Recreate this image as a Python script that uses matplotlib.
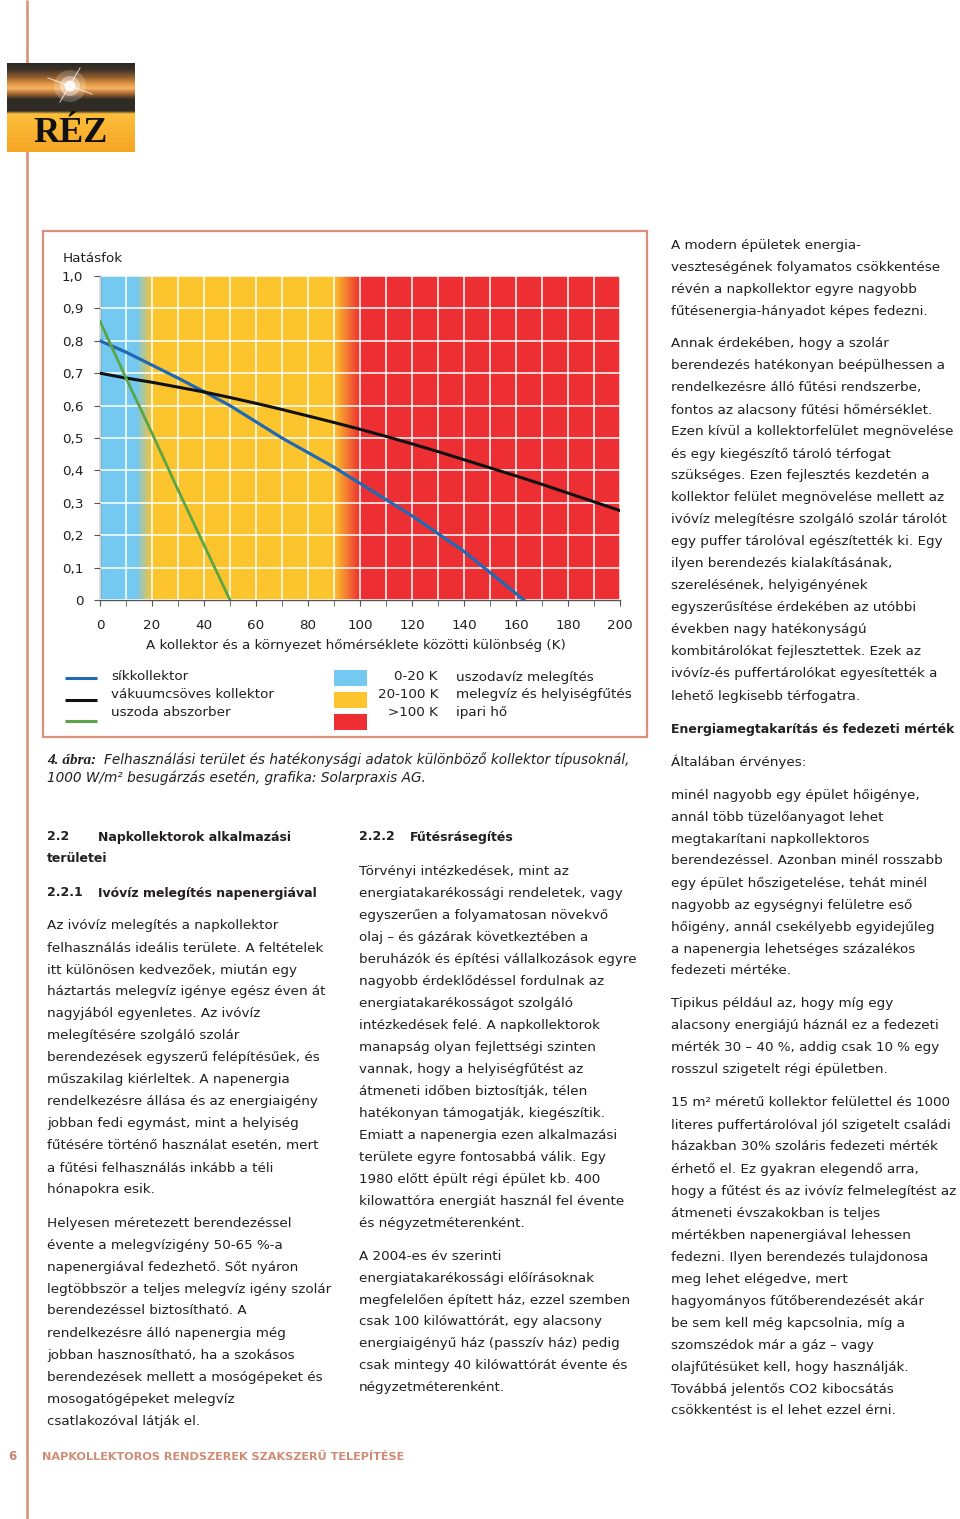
import numpy as np
import matplotlib.pyplot as plt
from matplotlib.patches import Rectangle
from matplotlib.colors import to_rgb

# efficiency curves (x = temperature difference in K)
sik_dt = [0, 10, 20, 30, 40, 50, 60, 70, 80, 90, 100, 110, 120, 130, 140, 150, 160, 163]
sik_eta = [0.80, 0.765, 0.725, 0.685, 0.643, 0.60, 0.55, 0.50, 0.455, 0.41, 0.36,
           0.31, 0.26, 0.205, 0.15, 0.085, 0.02, 0.0]
vak_dt = [0, 10, 20, 30, 40, 50, 60, 70, 80, 90, 100, 110, 120, 130, 140, 150, 160,
          170, 180, 190, 200]
vak_eta = [0.70, 0.685, 0.672, 0.657, 0.642, 0.625, 0.607, 0.588, 0.568, 0.548, 0.527,
           0.505, 0.482, 0.458, 0.433, 0.408, 0.383, 0.357, 0.33, 0.303, 0.276]
usz_dt = [0, 10, 20, 30, 40, 50]
usz_eta = [0.86, 0.685, 0.515, 0.34, 0.17, 0.0]

series_names = ['síkkollektor', 'vákuumcsöves kollektor', 'uszoda abszorber']
series_colors = ['#2169b3', '#111111', '#5ba546']

zone_edges = [0, 20, 100, 200]
zone_ranges = ['0-20 K', '20-100 K', '>100 K']
zone_uses = ['uszodavíz melegítés', 'melegvíz és helyiségfűtés', 'ipari hő']
zone_colors = ['#74c9f1', '#fcc42d', '#ed2f33']

x_ticks = list(range(0, 201, 20))
y_ticks = [0, 0.1, 0.2, 0.3, 0.4, 0.5, 0.6, 0.7, 0.8, 0.9, 1.0]
y_labels = ['0', '0,1', '0,2', '0,3', '0,4', '0,5', '0,6', '0,7', '0,8', '0,9', '1,0']

right_col = [
    ['A modern épületek energia-',
     'veszteségének folyamatos csökkentése',
     'révén a napkollektor egyre nagyobb',
     'fűtésenergia-hányadot képes fedezni.'],
    ['Annak érdekében, hogy a szolár',
     'berendezés hatékonyan beépülhessen a',
     'rendelkezésre álló fűtési rendszerbe,',
     'fontos az alacsony fűtési hőmérséklet.',
     'Ezen kívül a kollektorfelület megnövelése',
     'és egy kiegészítő tároló térfogat',
     'szükséges. Ezen fejlesztés kezdetén a',
     'kollektor felület megnövelése mellett az',
     'ivóvíz melegítésre szolgáló szolár tárolót',
     'egy puffer tárolóval egészítették ki. Egy',
     'ilyen berendezés kialakításának,',
     'szerelésének, helyigényének',
     'egyszerűsítése érdekében az utóbbi',
     'években nagy hatékonyságú',
     'kombitárolókat fejlesztettek. Ezek az',
     'ivóvíz-és puffertárolókat egyesítették a',
     'lehető legkisebb térfogatra.'],
    ['**Energiamegtakarítás és fedezeti mérték'],
    ['Általában érvényes:'],
    ['minél nagyobb egy épület hőigénye,',
     'annál több tüzelőanyagot lehet',
     'megtakarítani napkollektoros',
     'berendezéssel. Azonban minél rosszabb',
     'egy épület hőszigetelése, tehát minél',
     'nagyobb az egységnyi felületre eső',
     'hőigény, annál csekélyebb egyidejűleg',
     'a napenergia lehetséges százalékos',
     'fedezeti mértéke.'],
    ['Tipikus például az, hogy míg egy',
     'alacsony energiájú háznál ez a fedezeti',
     'mérték 30 – 40 %, addig csak 10 % egy',
     'rosszul szigetelt régi épületben.'],
    ['15 m² méretű kollektor felülettel és 1000',
     'literes puffertárolóval jól szigetelt családi',
     'házakban 30% szoláris fedezeti mérték',
     'érhető el. Ez gyakran elegendő arra,',
     'hogy a fűtést és az ivóvíz felmelegítést az',
     'átmeneti évszakokban is teljes',
     'mértékben napenergiával lehessen',
     'fedezni. Ilyen berendezés tulajdonosa',
     'meg lehet elégedve, mert',
     'hagyományos fűtőberendezését akár',
     'be sem kell még kapcsolnia, míg a',
     'szomszédok már a gáz – vagy',
     'olajfűtésüket kell, hogy használják.',
     'Továbbá jelentős CO2 kibocsátás',
     'csökkentést is el lehet ezzel érni.'],
]

left_col = [
    ['Az ivóvíz melegítés a napkollektor',
     'felhasználás ideális területe. A feltételek',
     'itt különösen kedvezőek, miután egy',
     'háztartás melegvíz igénye egész éven át',
     'nagyjából egyenletes. Az ivóvíz',
     'melegítésére szolgáló szolár',
     'berendezések egyszerű felépítésűek, és',
     'műszakilag kiérleltek. A napenergia',
     'rendelkezésre állása és az energiaigény',
     'jobban fedi egymást, mint a helyiség',
     'fűtésére történő használat esetén, mert',
     'a fűtési felhasználás inkább a téli',
     'hónapokra esik.'],
    ['Helyesen méretezett berendezéssel',
     'évente a melegvízigény 50-65 %-a',
     'napenergiával fedezhető. Sőt nyáron',
     'legtöbbször a teljes melegvíz igény szolár',
     'berendezéssel biztosítható. A',
     'rendelkezésre álló napenergia még',
     'jobban hasznosítható, ha a szokásos',
     'berendezések mellett a mosógépeket és',
     'mosogatógépeket melegvíz',
     'csatlakozóval látják el.'],
]

mid_col = [
    ['Törvényi intézkedések, mint az',
     'energiatakarékossági rendeletek, vagy',
     'egyszerűen a folyamatosan növekvő',
     'olaj – és gázárak következtében a',
     'beruházók és építési vállalkozások egyre',
     'nagyobb érdeklődéssel fordulnak az',
     'energiatakarékosságot szolgáló',
     'intézkedések felé. A napkollektorok',
     'manapság olyan fejlettségi szinten',
     'vannak, hogy a helyiségfűtést az',
     'átmeneti időben biztosítják, télen',
     'hatékonyan támogatják, kiegészítik.',
     'Emiatt a napenergia ezen alkalmazási',
     'területe egyre fontosabbá válik. Egy',
     '1980 előtt épült régi épület kb. 400',
     'kilowattóra energiát használ fel évente',
     'és négyzetméterenként.'],
    ['A 2004-es év szerinti',
     'energiatakarékossági előírásoknak',
     'megfelelően épített ház, ezzel szemben',
     'csak 100 kilówattórát, egy alacsony',
     'energiaigényű ház (passzív ház) pedig',
     'csak mintegy 40 kilówattórát évente és',
     'négyzetméterenként.'],
]

W, H = 960, 1519
FS = 9.7     # body text
FB = 9.0     # bold headings
TXT = '#231f20'
SALMON = '#d9917b'

fig = plt.figure(figsize=(W / 100, H / 100), dpi=100)
pg = fig.add_axes([0, 0, 1, 1])
pg.set_xlim(0, W)
pg.set_ylim(H, 0)
pg.axis('off')


def column(x, y, paras, step=22, gap=11):
    for para in paras:
        for line in para:
            bold = line.startswith('**')
            pg.text(x, y, line.lstrip('*'), fontsize=FB if bold else FS, color=TXT,
                    va='center', fontweight='bold' if bold else 'normal')
            y += step
        y += gap
    return y


# page rule and logo
pg.plot([27, 27], [0, H], color=SALMON, lw=1.9, solid_capstyle='butt')
logo_y = np.arange(63, 153)
stops_y = [63, 69, 77, 84, 88, 93, 99, 111, 114, 152]
stops_c = ['#2a2924', '#3d3226', '#94602e', '#e89b46', '#f3b466', '#b06d32',
           '#2f2b25', '#2f2b25', '#fcc03c', '#f6a524']
rgb = np.array([to_rgb(c) for c in stops_c])
grad = np.stack([np.interp(logo_y, stops_y, rgb[:, k]) for k in range(3)], axis=1)
grad = np.repeat(grad[:, None, :], 10, axis=1)
pg.imshow(grad, extent=[7, 135, 152, 63], aspect='auto', zorder=2)
for r, a in [(16, 0.2), (10, 0.4), (5.5, 0.9)]:
    pg.add_patch(plt.Circle((70, 86), r, color='white', alpha=a, lw=0, zorder=3))
pg.plot([48, 92], [78, 94], color='white', lw=0.8, alpha=0.7, zorder=3)
pg.plot([80, 60], [68, 102], color='white', lw=0.8, alpha=0.7, zorder=3)
pg.text(71, 134, 'RÉZ', fontsize=26, fontweight='bold', family='Liberation Serif',
        ha='center', va='center', color='#111', zorder=4)

# chart frame
pg.add_patch(Rectangle((43, 231), 604, 506, fill=False, ec=SALMON, lw=1.6))
pg.text(63, 259, 'Hatásfok', fontsize=FS, color=TXT, va='center')
pg.text(356, 645, 'A kollektor és a környezet hőmérséklete közötti különbség (K)',
        fontsize=FS, color=TXT, ha='center', va='center')

# legend (lines)
for i, (name, col) in enumerate(zip(series_names, series_colors)):
    pg.plot([65, 97], [678 + 21.5 * i] * 2, color=col, lw=2.2, solid_capstyle='butt')
    pg.text(111, 677 + 17.5 * i, name, fontsize=FS, color=TXT, va='center')
# legend (zones)
for i in range(3):
    pg.add_patch(Rectangle((334, 670 + 22 * i), 33, 15.5, color=zone_colors[i], lw=0))
    pg.text(438, 677 + 17.5 * i, zone_ranges[i], fontsize=FS, color=TXT, ha='right', va='center')
    pg.text(456, 677 + 17.5 * i, zone_uses[i], fontsize=FS, color=TXT, va='center')

# caption
pg.text(47, 760, '4. ábra:', fontsize=11, family='Liberation Serif', fontweight='bold',
        style='italic', color=TXT, va='center')
pg.text(104, 760, 'Felhasználási terület és hatékonysági adatok különböző kollektor típusoknál,',
        fontsize=9.8, style='italic', color=TXT, va='center')
pg.text(47, 778, '1000 W/m² besugárzás esetén, grafika: Solarpraxis AG.',
        fontsize=9.8, style='italic', color=TXT, va='center')

# text columns
column(671, 245, right_col)

pg.text(47, 837, '2.2', fontsize=FB, fontweight='bold', color=TXT, va='center')
pg.text(98, 837, 'Napkollektorok alkalmazási', fontsize=FB, fontweight='bold', color=TXT, va='center')
pg.text(47, 859, 'területei', fontsize=FB, fontweight='bold', color=TXT, va='center')
pg.text(47, 893, '2.2.1', fontsize=FB, fontweight='bold', color=TXT, va='center')
pg.text(98, 893, 'Ivóvíz melegítés napenergiával', fontsize=FB, fontweight='bold', color=TXT, va='center')
column(47, 926, left_col)

pg.text(359, 837, '2.2.2', fontsize=FB, fontweight='bold', color=TXT, va='center')
pg.text(410, 837, 'Fűtésrásegítés', fontsize=FB, fontweight='bold', color=TXT, va='center')
column(359, 871, mid_col)

# footer
pg.text(8, 1457, '6', fontsize=8.5, fontweight='bold', color='#c9866e', va='center')
pg.text(42, 1457, 'NAPKOLLEKTOROS RENDSZEREK SZAKSZERŰ TELEPÍTÉSE', fontsize=8.1,
        fontweight='bold', color='#d08b73', va='center')

# chart
ax = fig.add_axes([100 / W, 1 - 600 / H, 520 / W, 324 / H])
xs = np.linspace(0, 200, 801)
bg_x = [zone_edges[0], zone_edges[1] - 6, zone_edges[1], zone_edges[2] - 10,
        zone_edges[2], zone_edges[3]]
bg_c = np.array([to_rgb(zone_colors[0]), to_rgb(zone_colors[0]), to_rgb(zone_colors[1]),
                 to_rgb(zone_colors[1]), to_rgb(zone_colors[2]), to_rgb(zone_colors[2])])
bg = np.stack([np.interp(xs, bg_x, bg_c[:, k]) for k in range(3)], axis=1)[None, :, :]
ax.imshow(bg, extent=[0, 200, 0, 1], aspect='auto', zorder=0)

ax.plot(sik_dt, sik_eta, color=series_colors[0], lw=2.3, zorder=3)
ax.plot(vak_dt, vak_eta, color=series_colors[1], lw=2.2, zorder=3)
ax.plot(usz_dt, usz_eta, color=series_colors[2], lw=2.0, zorder=3)

ax.set_xlim(0, 200)
ax.set_ylim(0, 1.0)
ax.set_xticks(x_ticks)
ax.set_xticks(range(10, 200, 20), minor=True)
ax.set_yticks(y_ticks)
ax.set_yticklabels(y_labels)
ax.grid(True, which='both', color='white', lw=1.1, zorder=1)
ax.set_axisbelow(False)
for s in ['top', 'right']:
    ax.spines[s].set_visible(False)
for s in ['left', 'bottom']:
    ax.spines[s].set_color('#555')
    ax.spines[s].set_linewidth(1.0)
ax.tick_params(which='both', direction='out', length=4, color='#555', labelsize=FS,
               labelcolor=TXT, pad=8)
ax.tick_params(axis='x', pad=10)

fig.savefig('out.png', dpi=100)
